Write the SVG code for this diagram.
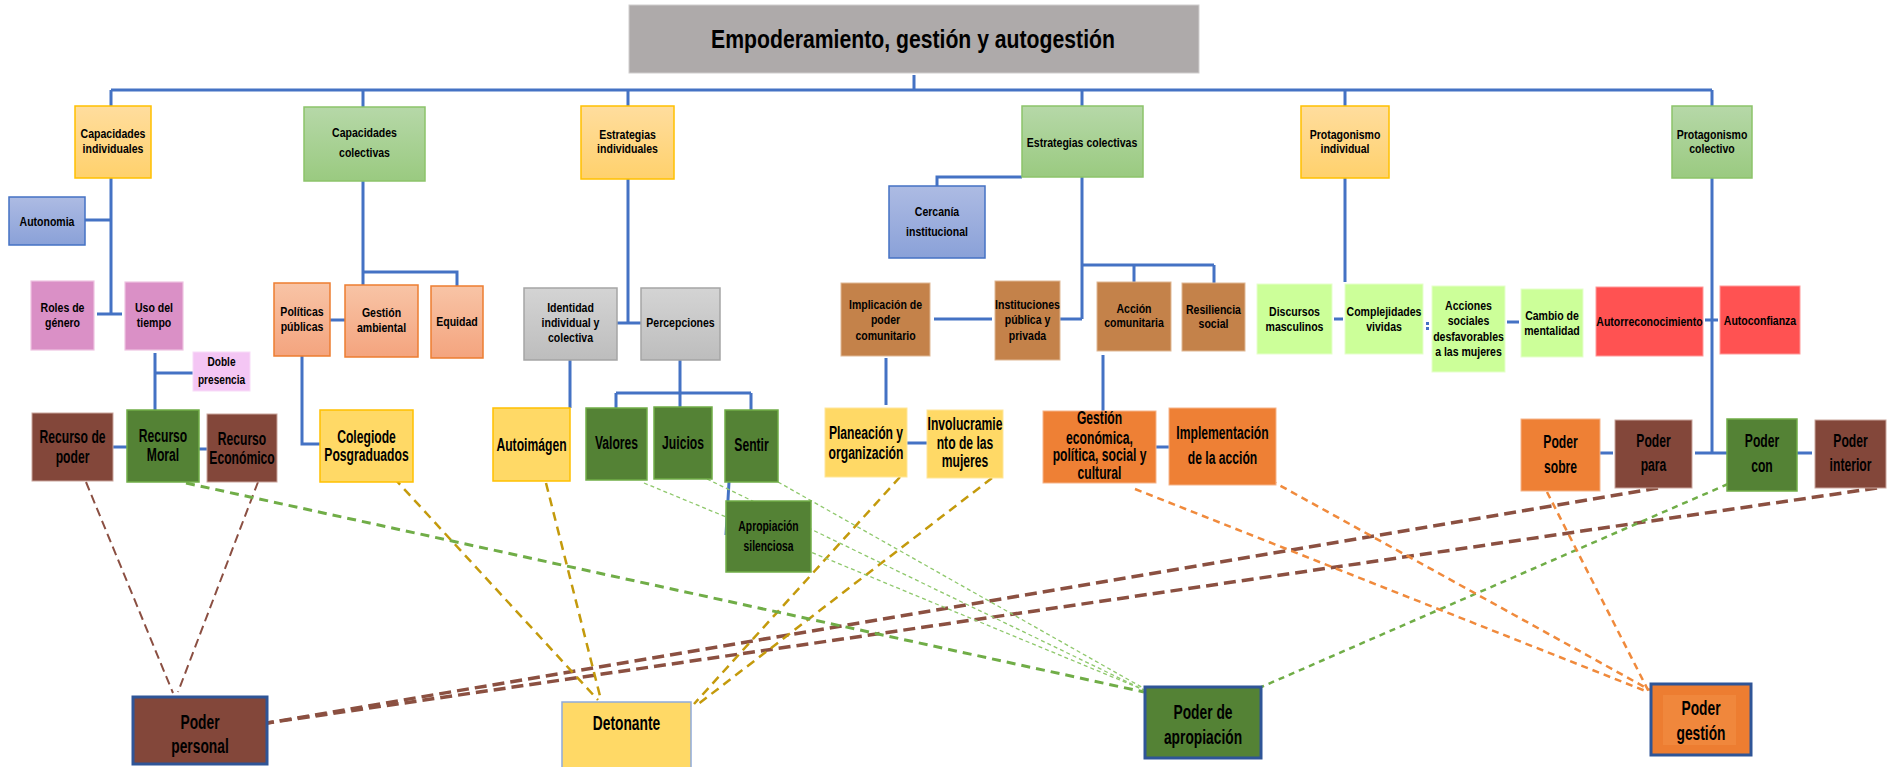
<svg xmlns="http://www.w3.org/2000/svg" width="1893" height="767" viewBox="0 0 1893 767">
<defs>
<linearGradient id="gOr" x1="0" y1="0" x2="0" y2="1"><stop offset="0" stop-color="#ffdd9e"/><stop offset="1" stop-color="#ffd16c"/></linearGradient>
<linearGradient id="gGr" x1="0" y1="0" x2="0" y2="1"><stop offset="0" stop-color="#b6d8a8"/><stop offset="1" stop-color="#9aca80"/></linearGradient>
<linearGradient id="gBl" x1="0" y1="0" x2="0" y2="1"><stop offset="0" stop-color="#adbbe3"/><stop offset="1" stop-color="#8aa1d8"/></linearGradient>
<linearGradient id="gSa" x1="0" y1="0" x2="0" y2="1"><stop offset="0" stop-color="#f8c4a6"/><stop offset="1" stop-color="#f4a47e"/></linearGradient>
<linearGradient id="gGy" x1="0" y1="0" x2="0" y2="1"><stop offset="0" stop-color="#d4d4d4"/><stop offset="1" stop-color="#bdbdbd"/></linearGradient>
</defs>
<style>
.t{font-family:"Liberation Sans Narrow","Liberation Sans",Arial,sans-serif;font-weight:bold;fill:#000;text-anchor:middle}
.s{font-size:13px}
.b{font-size:17.6px}
.m{font-size:15px}
.L{font-size:20px}
.c{fill:none;stroke:#4472c4;stroke-width:3}
.d{fill:none}
.br1{stroke:#8b4f42;stroke-width:2;stroke-dasharray:9 5}
.br2{stroke:#8b5041;stroke-width:3.5;stroke-dasharray:12 6}
.gd{stroke:#c49a0c;stroke-width:2.5;stroke-dasharray:9 6}
.gr1{stroke:#70ad47;stroke-width:3;stroke-dasharray:9 6}
.gr2{stroke:#8fc86c;stroke-width:1.3;stroke-dasharray:4 3}
.gr3{stroke:#70ad47;stroke-width:2.5;stroke-dasharray:6 5}
.or{stroke:#f08a3c;stroke-width:2.5;stroke-dasharray:7 5}
.nOr{fill:url(#gOr);stroke:#ffc000;stroke-width:1.5}
.nGr{fill:url(#gGr);stroke:#8cc36a;stroke-width:1.5}
.nBl{fill:url(#gBl);stroke:#4472c4;stroke-width:1.5}
.nSa{fill:url(#gSa);stroke:#ed7d31;stroke-width:1.5}
.nGy{fill:url(#gGy);stroke:#a5a5a5;stroke-width:1.5}
.nPk{fill:#da90c6;stroke:#eec4e2;stroke-width:1.2}
.nPl{fill:#f4c6f4;stroke:#f8dcf8;stroke-width:1}
.nYe{fill:#ffd966;stroke:#ffc000;stroke-width:1.5}
.nYl{fill:#ffd966;stroke:#ffe699;stroke-width:1}
.nDg{fill:#548235;stroke:#70ad47;stroke-width:1.5}
.nBr{fill:#83473a;stroke:#c9a59c;stroke-width:1}
.nBo{fill:#c4824a;stroke:#e0b894;stroke-width:1}
.nOg{fill:#ee8035;stroke:#f5b48a;stroke-width:1}
.nLg{fill:#ccff99;stroke:#e6ffcc;stroke-width:1}
.nRd{fill:#ff5252;stroke:#ff9a9a;stroke-width:1}
.bb{stroke:#2f5597;stroke-width:3}
</style>

<g id="connectors">
<g id="tree">
<path class="c" d="M111,90 H1712 M914,75 V91 M111,90 V106 M363,90 V107 M628,90 V106 M1082,90 V106 M1345,90 V106 M1712,90 V106"/>
<path class="c" d="M111,178 V314 M97,314 H122 M85,220 H111"/>
<path class="c" d="M155,353 V410 M155,373 H193"/>
<path class="c" d="M113,447 H127 M199,449 H207"/>
<path class="c" d="M363,181 V285 M363,272 H457 V286 M330,320 H345 M302,356 V444 H320"/>
<path class="c" d="M628,179 V323 M617,323 H641 M570,360 V408"/>
<path class="c" d="M680,360 V393 M616,393 H751 M616,393 V408 M680,393 V407 M751,393 V410 M729,482 L726,535"/>
<path class="c" d="M1082,177 V319 M1060,319 H1082 M1022,177 H937 V186 M1082,265 H1214 M1134,265 V282 M1214,265 V283"/>
<path class="c" d="M934,319 H992 M886,358 V405 M907,443 H927 M1103,355 V411 M1156,447 H1169"/>
<path class="c" d="M1345,178 V282 M1334,319 H1343 M1507,322 H1519"/>
<rect x="1426" y="322" width="3" height="3" fill="#4472c4"/>
<rect x="1426" y="327" width="3" height="3" fill="#4472c4"/>
<path class="c" d="M1712,178 V453 M1705,320 H1718 M1695,453 H1727 M1600,453 H1613 M1797,453 H1812"/>
</g>
<g id="dashed">
<path class="d br1" d="M86,482 L173,693"/>
<path class="d br1" d="M258,482 L178,692"/>
<path class="d br2" d="M1658,488 L267,723"/>
<path class="d br2" d="M1877,488 L267,723"/>
<path class="d gd" d="M394,478 L598,700"/>
<path class="d gd" d="M546,483 L601,700"/>
<path class="d gd" d="M900,477 L694,704"/>
<path class="d gd" d="M992,478 L697,705"/>
<path class="d gr1" d="M186,483 L1144,692"/>
<path class="d gr2" d="M644,483 L1144,690"/>
<path class="d gr2" d="M707,479 L1144,690"/>
<path class="d gr2" d="M778,482 L1145,689"/>
<path class="d gr3" d="M1728,484 L1259,688"/>
<path class="d or" d="M1135,489 L1648,692"/>
<path class="d or" d="M1270,480 L1650,690"/>
<path class="d or" d="M1547,492 L1650,694"/>
</g>
</g>

<g id="title"><rect x="629" y="5" width="570" height="68" fill="#aeaaaa" stroke="#d0cece" stroke-width="1"/>
<text class="t" font-size="26.5" transform="matrix(.8 0 0 1 913 0)" x="0" y="48">Empoderamiento, gestión y autogestión</text></g>

<g id="capacidades-individuales"><rect class="nOr" x="75" y="106" width="76" height="72"/>
<text class="t s" transform="matrix(.81 0 0 1 113 0)"><tspan x="0" y="138">Capacidades</tspan><tspan x="0" y="153">individuales</tspan></text></g>
<g id="capacidades-colectivas"><rect class="nGr" x="304" y="107" width="121" height="74"/>
<text class="t s" transform="matrix(.81 0 0 1 364.5 0)"><tspan x="0" y="137">Capacidades</tspan><tspan x="0" y="157">colectivas</tspan></text></g>
<g id="estrategias-individuales"><rect class="nOr" x="581" y="106" width="93" height="73"/>
<text class="t s" transform="matrix(.81 0 0 1 627.5 0)"><tspan x="0" y="139">Estrategias</tspan><tspan x="0" y="153">individuales</tspan></text></g>
<g id="estrategias-colectivas"><rect class="nGr" x="1022" y="106" width="121" height="71"/>
<text class="t s" transform="matrix(.81 0 0 1 1082 0)" x="0" y="147">Estrategias colectivas</text></g>
<g id="protagonismo-individual"><rect class="nOr" x="1301" y="106" width="88" height="72"/>
<text class="t s" transform="matrix(.81 0 0 1 1345 0)"><tspan x="0" y="139">Protagonismo</tspan><tspan x="0" y="153">individual</tspan></text></g>
<g id="protagonismo-colectivo"><rect class="nGr" x="1672" y="106" width="80" height="72"/>
<text class="t s" transform="matrix(.81 0 0 1 1712 0)"><tspan x="0" y="139">Protagonismo</tspan><tspan x="0" y="153">colectivo</tspan></text></g>

<g id="autonomia"><rect class="nBl" x="9" y="197" width="76" height="48"/>
<text class="t s" transform="matrix(.81 0 0 1 47 0)" x="0" y="226">Autonomia</text></g>
<g id="cercania"><rect class="nBl" x="889" y="186" width="96" height="72"/>
<text class="t s" transform="matrix(.81 0 0 1 937 0)"><tspan x="0" y="216">Cercanía</tspan><tspan x="0" y="236">institucional</tspan></text></g>

<g id="roles"><rect class="nPk" x="31" y="281" width="63" height="69"/>
<text class="t s" transform="matrix(.81 0 0 1 62.5 0)"><tspan x="0" y="312">Roles de</tspan><tspan x="0" y="327">género</tspan></text></g>
<g id="uso-tiempo"><rect class="nPk" x="125" y="282" width="58" height="68"/>
<text class="t s" transform="matrix(.81 0 0 1 154 0)"><tspan x="0" y="312">Uso del</tspan><tspan x="0" y="327">tiempo</tspan></text></g>
<g id="doble-presencia"><rect class="nPl" x="193" y="352" width="57" height="39"/>
<text class="t" font-size="12.5" transform="matrix(.81 0 0 1 221.5 0)"><tspan x="0" y="366">Doble</tspan><tspan x="0" y="384">presencia</tspan></text></g>
<g id="politicas"><rect class="nSa" x="274" y="283" width="56" height="73"/>
<text class="t s" transform="matrix(.81 0 0 1 302 0)"><tspan x="0" y="316">Políticas</tspan><tspan x="0" y="331">públicas</tspan></text></g>
<g id="gestion-ambiental"><rect class="nSa" x="345" y="285" width="73" height="72"/>
<text class="t s" transform="matrix(.81 0 0 1 381.5 0)"><tspan x="0" y="317">Gestión</tspan><tspan x="0" y="332">ambiental</tspan></text></g>
<g id="equidad"><rect class="nSa" x="431" y="286" width="52" height="72"/>
<text class="t s" transform="matrix(.81 0 0 1 457 0)" x="0" y="326">Equidad</text></g>
<g id="identidad"><rect class="nGy" x="524" y="288" width="93" height="72"/>
<text class="t s" transform="matrix(.81 0 0 1 570.5 0)"><tspan x="0" y="312">Identidad</tspan><tspan x="0" y="327">individual y</tspan><tspan x="0" y="342">colectiva</tspan></text></g>
<g id="percepciones"><rect class="nGy" x="641" y="288" width="79" height="72"/>
<text class="t s" transform="matrix(.81 0 0 1 680.5 0)" x="0" y="327">Percepciones</text></g>
<g id="implicacion"><rect class="nBo" x="841" y="283" width="89" height="73"/>
<text class="t s" transform="matrix(.81 0 0 1 885.5 0)"><tspan x="0" y="309">Implicación de</tspan><tspan x="0" y="324">poder</tspan><tspan x="0" y="340">comunitario</tspan></text></g>
<g id="instituciones"><rect class="nBo" x="995" y="281" width="65" height="79"/>
<text class="t s" transform="matrix(.81 0 0 1 1027.5 0)"><tspan x="0" y="309">Instituciones</tspan><tspan x="0" y="324">pública y</tspan><tspan x="0" y="340">privada</tspan></text></g>
<g id="accion-comunitaria"><rect class="nBo" x="1097" y="282" width="74" height="69"/>
<text class="t s" transform="matrix(.81 0 0 1 1134 0)"><tspan x="0" y="313">Acción</tspan><tspan x="0" y="327">comunitaria</tspan></text></g>
<g id="resiliencia"><rect class="nBo" x="1182" y="283" width="63" height="68"/>
<text class="t s" transform="matrix(.81 0 0 1 1213.5 0)"><tspan x="0" y="314">Resiliencia</tspan><tspan x="0" y="328">social</tspan></text></g>
<g id="discursos"><rect class="nLg" x="1257" y="284" width="75" height="70"/>
<text class="t s" transform="matrix(.81 0 0 1 1294.5 0)"><tspan x="0" y="316">Discursos</tspan><tspan x="0" y="331">masculinos</tspan></text></g>
<g id="complejidades"><rect class="nLg" x="1345" y="284" width="78" height="70"/>
<text class="t s" transform="matrix(.81 0 0 1 1384 0)"><tspan x="0" y="316">Complejidades</tspan><tspan x="0" y="331">vividas</tspan></text></g>
<g id="acciones"><rect class="nLg" x="1432" y="286" width="73" height="86"/>
<text class="t s" transform="matrix(.81 0 0 1 1468.5 0)"><tspan x="0" y="310">Acciones</tspan><tspan x="0" y="325">sociales</tspan><tspan x="0" y="341">desfavorables</tspan><tspan x="0" y="356">a las mujeres</tspan></text></g>
<g id="cambio"><rect class="nLg" x="1521" y="289" width="62" height="68"/>
<text class="t s" transform="matrix(.81 0 0 1 1552 0)"><tspan x="0" y="320">Cambio de</tspan><tspan x="0" y="335">mentalidad</tspan></text></g>
<g id="autorreconocimiento"><rect class="nRd" x="1596" y="287" width="107" height="69"/>
<text class="t s" transform="matrix(.81 0 0 1 1649.5 0)" x="0" y="326">Autorreconocimiento</text></g>
<g id="autoconfianza"><rect class="nRd" x="1720" y="286" width="80" height="68"/>
<text class="t s" transform="matrix(.81 0 0 1 1760 0)" x="0" y="325">Autoconfianza</text></g>

<g id="recurso-poder"><rect class="nBr" x="32" y="413" width="81" height="68"/>
<text class="t b" transform="matrix(.69 0 0 1 72.5 0)"><tspan x="0" y="443">Recurso de</tspan><tspan x="0" y="463">poder</tspan></text></g>
<g id="recurso-moral"><rect class="nDg" x="127" y="410" width="72" height="72"/>
<text class="t b" transform="matrix(.69 0 0 1 163 0)"><tspan x="0" y="442">Recurso</tspan><tspan x="0" y="461">Moral</tspan></text></g>
<g id="recurso-economico"><rect class="nBr" x="207" y="414" width="70" height="68"/>
<text class="t b" transform="matrix(.69 0 0 1 242 0)"><tspan x="0" y="445">Recurso</tspan><tspan x="0" y="464">Económico</tspan></text></g>
<g id="colegio"><rect class="nYe" x="320" y="410" width="93" height="72"/>
<text class="t b" transform="matrix(.69 0 0 1 366.5 0)"><tspan x="0" y="443">Colegiode</tspan><tspan x="0" y="461">Posgraduados</tspan></text></g>
<g id="autoimagen"><rect class="nYe" x="493" y="408" width="77" height="73"/>
<text class="t b" transform="matrix(.69 0 0 1 531.5 0)" x="0" y="451">Autoimágen</text></g>
<g id="valores"><rect class="nDg" x="586" y="408" width="61" height="72"/>
<text class="t b" transform="matrix(.69 0 0 1 616.5 0)" x="0" y="449">Valores</text></g>
<g id="juicios"><rect class="nDg" x="654" y="407" width="58" height="72"/>
<text class="t b" transform="matrix(.69 0 0 1 683 0)" x="0" y="449">Juicios</text></g>
<g id="sentir"><rect class="nDg" x="725" y="410" width="53" height="72"/>
<text class="t b" transform="matrix(.69 0 0 1 751.5 0)" x="0" y="451">Sentir</text></g>
<g id="apropiacion-silenciosa"><rect class="nDg" x="726" y="501" width="85" height="71"/>
<text class="t m" transform="matrix(.69 0 0 1 768.5 0)"><tspan x="0" y="531">Apropiación</tspan><tspan x="0" y="551">silenciosa</tspan></text></g>
<g id="planeacion"><rect class="nYl" x="825" y="408" width="82" height="69"/>
<text class="t b" transform="matrix(.69 0 0 1 866 0)"><tspan x="0" y="439">Planeación y</tspan><tspan x="0" y="459">organización</tspan></text></g>
<g id="involucramiento"><rect class="nYl" x="927" y="410" width="76" height="68"/>
<text class="t b" transform="matrix(.69 0 0 1 965 0)"><tspan x="0" y="430">Involucramie</tspan><tspan x="0" y="449">nto de las</tspan><tspan x="0" y="467">mujeres</tspan></text></g>
<g id="gestion-economica"><rect class="nOg" x="1043" y="411" width="113" height="72"/>
<text class="t b" transform="matrix(.69 0 0 1 1099.5 0)"><tspan x="0" y="424">Gestión</tspan><tspan x="0" y="444">económica,</tspan><tspan x="0" y="461">política, social y</tspan><tspan x="0" y="479">cultural</tspan></text></g>
<g id="implementacion"><rect class="nOg" x="1169" y="408" width="107" height="77"/>
<text class="t b" transform="matrix(.69 0 0 1 1222.5 0)"><tspan x="0" y="439">Implementación</tspan><tspan x="0" y="464">de la acción</tspan></text></g>
<g id="poder-sobre"><rect class="nOg" x="1521" y="419" width="79" height="72"/>
<text class="t b" transform="matrix(.69 0 0 1 1560.5 0)"><tspan x="0" y="448">Poder</tspan><tspan x="0" y="473">sobre</tspan></text></g>
<g id="poder-para"><rect class="nBr" x="1615" y="420" width="77" height="68"/>
<text class="t b" transform="matrix(.69 0 0 1 1653.5 0)"><tspan x="0" y="447">Poder</tspan><tspan x="0" y="471">para</tspan></text></g>
<g id="poder-con"><rect class="nDg" x="1727" y="419" width="70" height="72"/>
<text class="t b" transform="matrix(.69 0 0 1 1762 0)"><tspan x="0" y="447">Poder</tspan><tspan x="0" y="472">con</tspan></text></g>
<g id="poder-interior"><rect class="nBr" x="1815" y="420" width="71" height="68"/>
<text class="t b" transform="matrix(.69 0 0 1 1850.5 0)"><tspan x="0" y="447">Poder</tspan><tspan x="0" y="471">interior</tspan></text></g>

<g id="poder-personal"><rect class="bb" fill="#83473a" x="133" y="697" width="134" height="67"/>
<text class="t L" transform="matrix(.69 0 0 1 200 0)"><tspan x="0" y="729">Poder</tspan><tspan x="0" y="753">personal</tspan></text></g>
<g id="detonante"><rect fill="#ffd966" stroke="#8eaadb" stroke-width="1.5" x="562" y="702" width="129" height="66"/>
<text class="t L" transform="matrix(.69 0 0 1 626.5 0)" x="0" y="730">Detonante</text></g>
<g id="poder-apropiacion"><rect class="bb" fill="#548235" x="1145" y="687" width="116" height="71"/>
<text class="t L" transform="matrix(.69 0 0 1 1203 0)"><tspan x="0" y="719">Poder de</tspan><tspan x="0" y="744">apropiación</tspan></text></g>
<g id="poder-gestion"><rect class="bb" fill="#ed7d31" x="1651" y="684" width="100" height="71"/>
<rect x="1663" y="695" width="73" height="50" fill="#f0873c"/>
<text class="t L" transform="matrix(.69 0 0 1 1701 0)"><tspan x="0" y="715">Poder</tspan><tspan x="0" y="740">gestión</tspan></text></g>
</svg>
